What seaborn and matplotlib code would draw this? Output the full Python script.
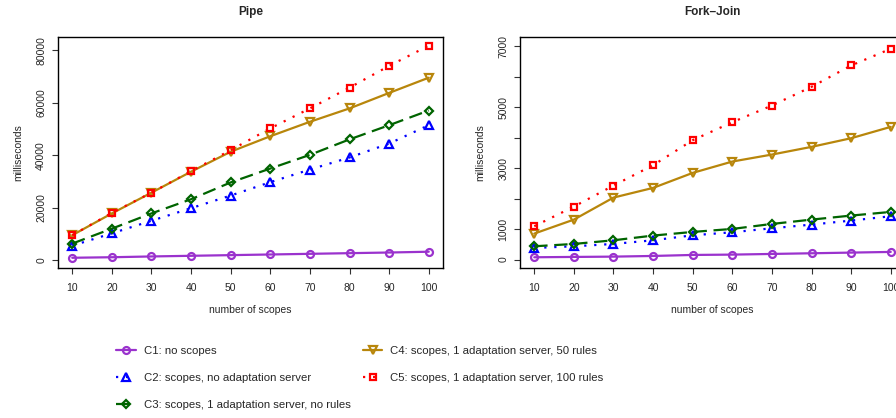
import seaborn as sns
import matplotlib.pyplot as plt
import pandas as pd

scopes = [10, 20, 30, 40, 50, 60, 70, 80, 90, 100]

labels = [
    "C1: no scopes",
    "C2: scopes, no adaptation server",
    "C3: scopes, 1 adaptation server, no rules",
    "C4: scopes, 1 adaptation server, 50 rules",
    "C5: scopes, 1 adaptation server, 100 rules",
]

# Pipe (ms)
pipe_c1 = [900, 1100, 1400, 1650, 1900, 2150, 2400, 2650, 2900, 3200]
pipe_c2 = [5500, 10200, 15000, 19800, 24600, 29700, 34500, 39100, 44400, 51400]
pipe_c3 = [6300, 12000, 17800, 23200, 29600, 34900, 40100, 46000, 51400, 57000]
pipe_c4 = [9500, 17800, 25700, 33700, 41300, 47200, 52700, 57800, 63700, 69500]
pipe_c5 = [9500, 18000, 25700, 33900, 41900, 50200, 57800, 65700, 74000, 81700]

# Fork-Join (ms)
fj_c1 = [77, 88, 98, 120, 153, 164, 186, 208, 230, 252]
fj_c2 = [383, 437, 514, 634, 798, 897, 1028, 1148, 1280, 1422]
fj_c3 = [437, 514, 634, 788, 908, 1006, 1170, 1312, 1444, 1564]
fj_c4 = [853, 1312, 2034, 2352, 2844, 3216, 3445, 3697, 3981, 4353]
fj_c5 = [1094, 1739, 2428, 3095, 3916, 4506, 5053, 5666, 6366, 6913]

colors = ["#9A32CD", "#0000FF", "#006400", "#B8860B", "#FF0000"]
markers = ["o", "^", "D", "v", "s"]
msizes = [5, 6, 4.5, 6, 5]
styles = ["-", (0, (1, 3.5)), (0, (6, 3)), "-", (0, (1, 3.5))]

sns.set_style("ticks")
plt.rcParams['font.family'] = ['Liberation Sans', 'DejaVu Sans']

fig = plt.figure(figsize=(8.96, 4.18), dpi=100)
ax1 = fig.add_axes([58 / 896, 1 - 268 / 418, 385 / 896, 231 / 418])
ax2 = fig.add_axes([520 / 896, 1 - 268 / 418, 385 / 896, 231 / 418])


def draw(ax, series, title, ylim, yticks, ylabels):
    for i, vals in enumerate(series):
        df = pd.DataFrame({"scopes": scopes, "ms": vals})
        sns.lineplot(data=df, x="scopes", y="ms", ax=ax, color=colors[i],
                     marker=markers[i], markersize=msizes[i],
                     markerfacecolor="none", markeredgecolor=colors[i],
                     markeredgewidth=1.6, linewidth=1.6,
                     linestyle=styles[i], label=labels[i])
    ax.set_xlim(6.4, 103.6)
    ax.set_ylim(*ylim)
    ax.set_xticks(scopes)
    ax.set_xticklabels([str(s) for s in scopes], fontsize=7.5)
    ax.set_yticks(yticks)
    ax.set_yticklabels(ylabels, fontsize=7.5, rotation=90, va="center")
    ax.tick_params(axis="y", pad=4)
    ax.tick_params(axis="x", pad=6)
    ax.set_xlabel("number of scopes", fontsize=7.5, labelpad=9)
    ax.set_ylabel("milliseconds", fontsize=7.5, labelpad=9)
    ax.set_title(title, fontsize=8.5, fontweight="bold", pad=16)
    ax.tick_params(length=4.5, width=0.8, color="#333333")
    for s in ax.spines.values():
        s.set_linewidth(1.0)
        s.set_color("black")
    ax.get_legend().remove()


draw(ax1, [pipe_c1, pipe_c2, pipe_c3, pipe_c4, pipe_c5], "Pipe",
     (-3000, 85000), [0, 20000, 40000, 60000, 80000],
     ["0", "20000", "40000", "60000", "80000"])
fj_ticks = [0, 1000, 2000, 3000, 4000, 5000, 6000, 7000]
draw(ax2, [fj_c1, fj_c2, fj_c3, fj_c4, fj_c5], "Fork\u2013Join",
     (-275, 7300), fj_ticks,
     [str(t) if (t // 1000) % 2 == 1 or t == 0 else "" for t in fj_ticks])

handles, labs = ax1.get_legend_handles_labels()
fig.legend(handles, labs, ncol=2, loc="upper left",
           bbox_to_anchor=(106 / 896, 1 - 336 / 418), frameon=False,
           fontsize=8.2, handlelength=1.7, handletextpad=0.7,
           labelspacing=1.5, columnspacing=1.1, numpoints=1)

plt.savefig("out.png", dpi=100)
plt.close()
